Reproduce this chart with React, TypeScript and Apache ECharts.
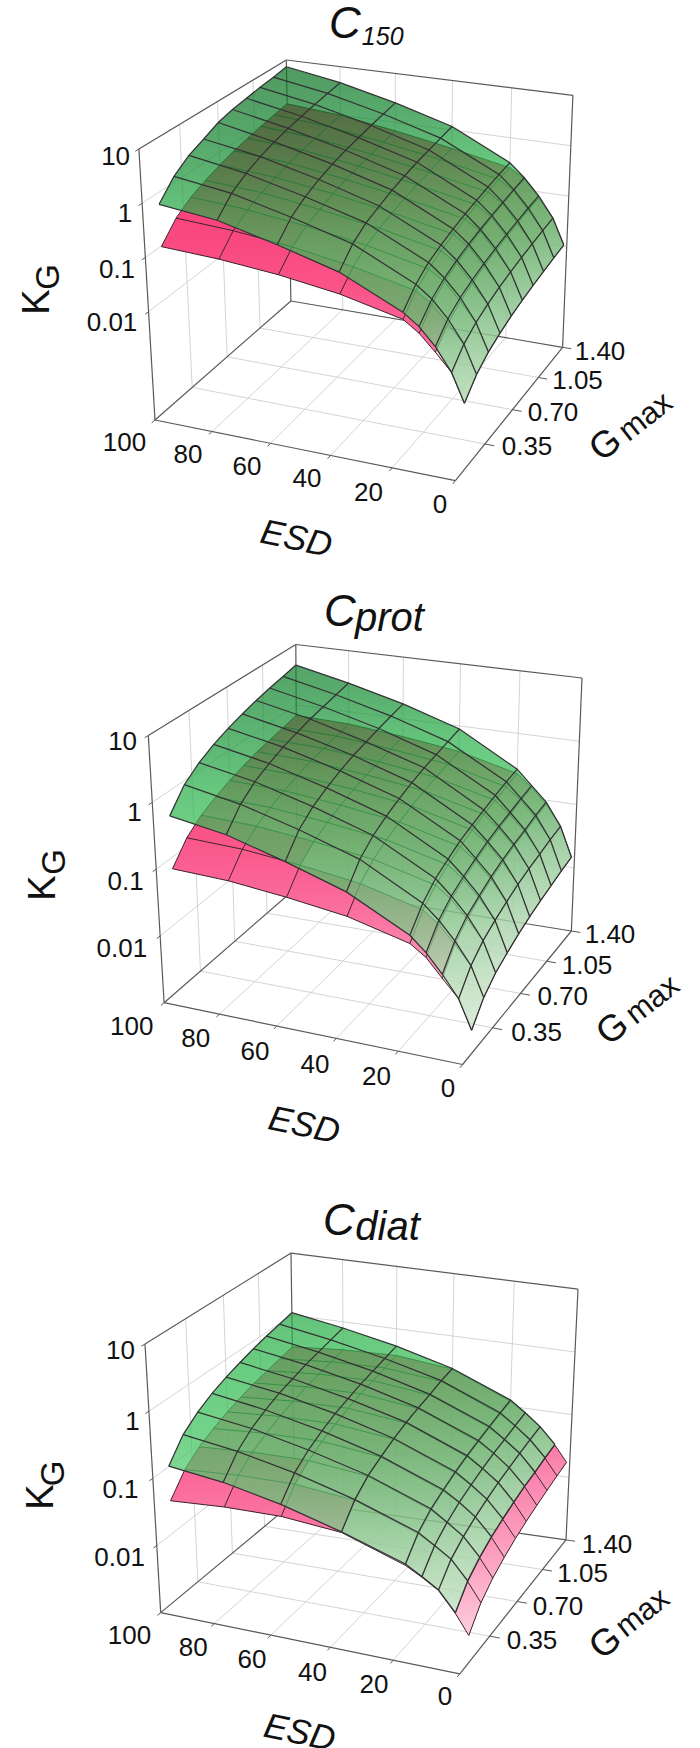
import React, { useEffect, useRef } from "react";
import * as echarts from "echarts";

// Axis ticks
const esdTicks = [100, 80, 60, 40, 20, 0];
const gmaxTicks = [0.35, 0.7, 1.05, 1.4];
const kgTicks = [10, 1, 0.1, 0.01];
const gmaxTickLabels = ["0.35", "0.70", "1.05", "1.40"];

// Surface mesh positions
const esdMesh = [100, 80, 60, 40, 20, 15, 10, 5, 1];
const gmaxMesh = [0.14, 0.28, 0.42, 0.56, 0.7, 0.84, 0.98, 1.12, 1.26, 1.4];

// log10(KG), one row per ESD in esdMesh, one value per G in gmaxMesh
const c150Green = [
  [-0.22, 0.11, 0.32, 0.45, 0.59, 0.67, 0.72, 0.77, 0.81, 0.86],
  [-0.34, -0.04, 0.14, 0.27, 0.37, 0.45, 0.51, 0.57, 0.62, 0.67],
  [-0.61, -0.31, -0.13, 0.0, 0.1, 0.18, 0.24, 0.3, 0.35, 0.4],
  [-0.92, -0.62, -0.44, -0.33, -0.23, -0.15, -0.08, -0.03, 0.02, 0.07],
  [-1.45, -1.17, -0.99, -0.88, -0.79, -0.71, -0.65, -0.59, -0.54, -0.5],
  [-1.66, -1.39, -1.23, -1.12, -1.03, -0.96, -0.9, -0.85, -0.8, -0.76],
  [-1.97, -1.7, -1.54, -1.44, -1.35, -1.28, -1.22, -1.17, -1.12, -1.08],
  [-2.38, -2.11, -1.95, -1.84, -1.75, -1.68, -1.62, -1.57, -1.52, -1.48],
  [-2.89, -2.62, -2.45, -2.34, -2.25, -2.18, -2.12, -2.07, -2.02, -1.98],
];
const c150Pink = [
  [-1.01, -0.68, -0.48, -0.35, -0.24, -0.15, -0.08, -0.02, 0.04, 0.09],
  [-1.06, -0.74, -0.55, -0.42, -0.32, -0.23, -0.16, -0.11, -0.05, 0.0],
  [-1.16, -0.86, -0.68, -0.57, -0.47, -0.39, -0.32, -0.27, -0.22, -0.17],
  [-1.32, -1.04, -0.86, -0.75, -0.66, -0.58, -0.52, -0.47, -0.41, -0.37],
  [-1.58, -1.29, -1.11, -0.99, -0.89, -0.81, -0.74, -0.69, -0.64, -0.6],
  [-1.78, -1.48, -1.3, -1.18, -1.08, -1.0, -0.94, -0.88, -0.83, -0.78],
  [-2.07, -1.79, -1.61, -1.5, -1.4, -1.33, -1.27, -1.22, -1.16, -1.12],
  [-2.38, -2.11, -1.95, -1.84, -1.75, -1.68, -1.62, -1.57, -1.52, -1.48],
  [-2.89, -2.62, -2.45, -2.34, -2.25, -2.18, -2.12, -2.07, -2.02, -1.98],
];
const cProtGreen = [
  [-0.37, -0.06, 0.12, 0.25, 0.35, 0.43, 0.5, 0.56, 0.61, 0.66],
  [-0.51, -0.22, -0.04, 0.08, 0.18, 0.25, 0.32, 0.37, 0.42, 0.47],
  [-0.76, -0.46, -0.28, -0.16, -0.06, 0.02, 0.08, 0.14, 0.19, 0.24],
  [-1.05, -0.75, -0.57, -0.45, -0.35, -0.27, -0.2, -0.15, -0.1, -0.05],
  [-1.52, -1.24, -1.06, -0.95, -0.85, -0.78, -0.72, -0.66, -0.61, -0.57],
  [-1.73, -1.45, -1.28, -1.17, -1.08, -1.0, -0.94, -0.89, -0.84, -0.8],
  [-2.0, -1.71, -1.53, -1.42, -1.32, -1.24, -1.18, -1.13, -1.07, -1.03],
  [-2.31, -2.03, -1.86, -1.75, -1.66, -1.58, -1.52, -1.47, -1.42, -1.38],
  [-2.73, -2.46, -2.3, -2.2, -2.11, -2.04, -1.98, -1.93, -1.88, -1.84],
];
const cProtPink = [
  [-1.17, -0.87, -0.69, -0.57, -0.47, -0.39, -0.32, -0.27, -0.22, -0.17],
  [-1.2, -0.9, -0.72, -0.6, -0.5, -0.42, -0.35, -0.3, -0.25, -0.2],
  [-1.29, -0.99, -0.81, -0.69, -0.59, -0.51, -0.44, -0.39, -0.34, -0.29],
  [-1.41, -1.11, -0.93, -0.81, -0.71, -0.63, -0.56, -0.51, -0.46, -0.41],
  [-1.64, -1.34, -1.16, -1.04, -0.94, -0.86, -0.79, -0.74, -0.69, -0.64],
  [-1.8, -1.51, -1.33, -1.22, -1.12, -1.04, -0.98, -0.93, -0.87, -0.83],
  [-2.06, -1.76, -1.58, -1.46, -1.36, -1.28, -1.21, -1.16, -1.11, -1.06],
  [-2.31, -2.03, -1.86, -1.75, -1.66, -1.58, -1.52, -1.47, -1.42, -1.38],
  [-2.73, -2.46, -2.3, -2.2, -2.11, -2.04, -1.98, -1.93, -1.88, -1.84],
];
const cDiatGreen = [
  [-0.99, -0.68, -0.5, -0.37, -0.27, -0.19, -0.12, -0.06, -0.01, 0.04],
  [-1.08, -0.79, -0.61, -0.49, -0.39, -0.32, -0.25, -0.2, -0.15, -0.1],
  [-1.25, -0.96, -0.79, -0.67, -0.57, -0.5, -0.43, -0.38, -0.33, -0.28],
  [-1.49, -1.2, -1.02, -0.91, -0.81, -0.73, -0.67, -0.62, -0.56, -0.52],
  [-1.79, -1.52, -1.36, -1.26, -1.17, -1.1, -1.04, -0.99, -0.94, -0.9],
  [-1.93, -1.67, -1.52, -1.41, -1.33, -1.26, -1.2, -1.16, -1.11, -1.07],
  [-2.08, -1.83, -1.69, -1.59, -1.51, -1.44, -1.39, -1.34, -1.3, -1.26],
  [-2.37, -2.11, -1.96, -1.85, -1.77, -1.7, -1.64, -1.6, -1.55, -1.51],
];
const cDiatPink = [
  [-1.51, -1.21, -1.03, -0.91, -0.81, -0.73, -0.66, -0.61, -0.56, -0.51],
  [-1.45, -1.15, -0.97, -0.85, -0.75, -0.67, -0.6, -0.55, -0.5, -0.45],
  [-1.43, -1.13, -0.95, -0.83, -0.73, -0.65, -0.58, -0.53, -0.48, -0.43],
  [-1.5, -1.21, -1.03, -0.92, -0.82, -0.74, -0.68, -0.63, -0.57, -0.53],
  [-1.81, -1.54, -1.38, -1.28, -1.19, -1.12, -1.06, -1.01, -0.96, -0.92],
  [-1.94, -1.68, -1.53, -1.42, -1.34, -1.27, -1.21, -1.17, -1.12, -1.08],
  [-2.09, -1.84, -1.7, -1.6, -1.52, -1.45, -1.4, -1.35, -1.31, -1.27],
  [-2.38, -2.12, -1.97, -1.86, -1.78, -1.71, -1.65, -1.61, -1.56, -1.52],
  [-2.67, -2.4, -2.24, -2.13, -2.04, -1.97, -1.91, -1.86, -1.81, -1.77],
];

type Pt = [number, number];
const FONT = '"Liberation Sans", Arial, sans-serif';

// Layout of the three boxes: corners named by (ESD end, Gmax end)
const panels = [
  {
    zMin: -4,
    frontCells: 6,
    strip: false,
    floor: [[455.4, 480.7], [155, 420], [290.9, 301], [562.6, 347.3]] as Pt[],
    roof: [[455, 198.6], [138.9, 149], [286.3, 60], [572.9, 95.3]] as Pt[],
    green: c150Green,
    pink: c150Pink,
    title: { main: "C", mainAt: [345, 22], sub: "150", subAt: [382.7, 36.4], subSize: 25 },
    kgPos: [[115.6, 156], [125, 213], [117, 269], [112, 322]],
    esdPos: [[124.4, 442], [188, 454], [247, 465.5], [307, 478], [368.5, 491.6], [440, 503.6]],
    gPos: [[527, 446], [553, 412], [577.5, 380], [600, 351]],
    kAt: [35.6, 302], gAt: [47.8, 277],
    esdAt: [296.6, 537.5],
    gmaxG: [605, 444], gmaxM: [645, 416],
  },
  {
    zMin: -3,
    frontCells: 6,
    strip: false,
    floor: [[462.6, 1064.5], [164.1, 1002.7], [297.4, 886.7], [571.4, 931]] as Pt[],
    roof: [[462, 785.5], [148.3, 735.5], [295.8, 644.5], [582, 678]] as Pt[],
    green: cProtGreen,
    pink: cProtPink,
    title: { main: "C", mainAt: [340, 610], sub: "prot", subAt: [389.5, 617], subSize: 40 },
    kgPos: [[122.6, 741], [134.4, 812], [125.7, 881], [121.8, 948]],
    esdPos: [[131.7, 1026], [195.7, 1038], [255, 1051], [315, 1063.5], [376.4, 1075.5], [448, 1088]],
    gPos: [[536.6, 1031.8], [562.7, 995.5], [587, 964.5], [610, 933.6]],
    kAt: [41.5, 888], gAt: [53.4, 862],
    esdAt: [304.5, 1124],
    gmaxG: [612, 1028], gmaxM: [652, 999],
  },
  {
    zMin: -3,
    frontCells: 3,
    strip: true,
    floor: [[459.8, 1673.8], [160.7, 1612.6], [294.6, 1501.4], [566, 1539.9]] as Pt[],
    roof: [[460, 1402], [145, 1344], [291, 1253.1], [578, 1289.2]] as Pt[],
    green: cDiatGreen,
    pink: cDiatPink,
    title: { main: "C", mainAt: [339, 1219], sub: "diat", subAt: [387.5, 1226], subSize: 40 },
    kgPos: [[120.5, 1350], [132.6, 1421], [120.5, 1488.5], [119.6, 1556.6]],
    esdPos: [[129.5, 1635], [193.3, 1646.5], [252, 1658.7], [312.5, 1672], [374, 1684], [445, 1696]],
    gPos: [[532, 1640], [558, 1605.6], [582.6, 1573], [607, 1544]],
    kAt: [40, 1497], gAt: [52.7, 1473.5],
    esdAt: [300, 1731.5],
    gmaxG: [605, 1642], gmaxM: [642, 1612],
  },
];

const greenStops: [number, number[]][] = [
  [0, [219, 237, 220]],
  [0.2, [182, 226, 185]],
  [0.35, [131, 211, 147]],
  [0.5, [74, 199, 102]],
  [0.7, [47, 185, 79]],
  [0.9, [19, 130, 47]],
  [1, [12, 109, 33]],
];
const pinkStops: [number, number[]][] = [
  [0, [255, 228, 238]],
  [0.1, [253, 205, 222]],
  [0.2, [252, 172, 200]],
  [0.375, [250, 120, 165]],
  [0.45, [250, 100, 150]],
  [0.6, [250, 75, 130]],
  [1, [245, 40, 105]],
];
const GREEN_ALPHA = 0.72;

// Pink cells showing in the open stay solid; those under the green sheet
// fade towards low values.
function pinkAlpha(panel: (typeof panels)[number], i: number, j: number, t: number) {
  if (panel.strip && i === 7) return 1;
  if (j === 0 && i < panel.frontCells) return 1;
  if (j === 1 && i <= 1) return 1;
  return Math.max(0.3, Math.min(1, 0.3 + 1.75 * (t - 0.3)));
}

function colorAt(stops: [number, number[]][], t: number, alpha: number) {
  const v = Math.max(0, Math.min(1, t));
  for (let i = 1; i < stops.length; i++) {
    if (v <= stops[i][0]) {
      const [t0, c0] = stops[i - 1];
      const [t1, c1] = stops[i];
      const k = (v - t0) / (t1 - t0);
      const c = c0.map((a, n) => Math.round(a + (c1[n] - a) * k));
      return `rgba(${c[0]},${c[1]},${c[2]},${alpha.toFixed(3)})`;
    }
  }
  const l = stops[stops.length - 1][1];
  return `rgba(${l[0]},${l[1]},${l[2]},${alpha.toFixed(3)})`;
}

// Perspective map of the unit square onto a quad
function quadMap(q: Pt[]) {
  const [[x0, y0], [x1, y1], [x2, y2], [x3, y3]] = q;
  const dx1 = x1 - x2, dx2 = x3 - x2, sx = x0 - x1 + x2 - x3;
  const dy1 = y1 - y2, dy2 = y3 - y2, sy = y0 - y1 + y2 - y3;
  const den = dx1 * dy2 - dx2 * dy1;
  const g = (sx * dy2 - dx2 * sy) / den;
  const h = (dx1 * sy - sx * dy1) / den;
  const a = x1 - x0 + g * x1, b = x3 - x0 + h * x3;
  const d = y1 - y0 + g * y1, e = y3 - y0 + h * y3;
  return (u: number, v: number): Pt => {
    const w = g * u + h * v + 1;
    return [(a * u + b * v + x0) / w, (d * u + e * v + y0) / w];
  };
}

function makeProjector(panel: (typeof panels)[number]) {
  const bottom = quadMap(panel.floor);
  const top = quadMap(panel.roof);
  return (esd: number, gmax: number, logK: number): Pt => {
    const u = esd / 100, v = gmax / 1.4;
    const t = (logK - panel.zMin) / (1 - panel.zMin);
    const f = bottom(u, v), c = top(u, v);
    return [f[0] + (c[0] - f[0]) * t, f[1] + (c[1] - f[1]) * t];
  };
}

function frameSeries(panel: (typeof panels)[number]) {
  const p = makeProjector(panel);
  const zMin = panel.zMin;
  const grid = "#d4d4d4";
  const edge = "#595959";
  const line = (a: Pt, b: Pt, stroke: string, lineWidth: number) => ({
    type: "line",
    shape: { x1: a[0], y1: a[1], x2: b[0], y2: b[1] },
    style: { stroke, lineWidth },
  });
  return {
    type: "custom",
    coordinateSystem: "none",
    silent: true,
    data: [[0]],
    renderItem: () => {
      const kids: any[] = [];
      const innerEsd = esdTicks.filter((e) => e > 0 && e < 100);
      const innerG = gmaxTicks.filter((g) => g < 1.4);
      innerEsd.forEach((e) => {
        kids.push(line(p(e, 0, zMin), p(e, 1.4, zMin), grid, 1));
        kids.push(line(p(e, 1.4, zMin), p(e, 1.4, 1), grid, 1));
      });
      innerG.forEach((g) => {
        kids.push(line(p(0, g, zMin), p(100, g, zMin), grid, 1));
        kids.push(line(p(100, g, zMin), p(100, g, 1), grid, 1));
      });
      kgTicks.slice(1).forEach((k) => {
        const z = Math.log10(k);
        kids.push(line(p(100, 0, z), p(100, 1.4, z), grid, 1));
        kids.push(line(p(100, 1.4, z), p(0, 1.4, z), grid, 1));
      });
      // box edges
      kids.push(line(p(100, 0, zMin), p(0, 0, zMin), edge, 1.2));
      kids.push(line(p(0, 0, zMin), p(0, 1.4, zMin), edge, 1.2));
      kids.push(line(p(0, 1.4, zMin), p(100, 1.4, zMin), edge, 1.2));
      kids.push(line(p(100, 1.4, zMin), p(100, 0, zMin), edge, 1.2));
      kids.push(line(p(100, 0, zMin), p(100, 0, 1), edge, 1.2));
      kids.push(line(p(100, 1.4, zMin), p(100, 1.4, 1), edge, 1.2));
      kids.push(line(p(0, 1.4, zMin), p(0, 1.4, 1), edge, 1.2));
      kids.push(line(p(100, 0, 1), p(100, 1.4, 1), edge, 1.2));
      kids.push(line(p(100, 1.4, 1), p(0, 1.4, 1), edge, 1.2));
      // ticks
      esdTicks.forEach((e) => {
        kids.push(line(p(e, 0, zMin), p(e, -0.03, zMin), edge, 1));
      });
      gmaxTicks.forEach((g) => {
        kids.push(line(p(0, g, zMin), p(-3, g, zMin), edge, 1));
      });
      kgTicks.forEach((k) => {
        const z = Math.log10(k);
        kids.push(line(p(100, 0, z), p(100, -0.03, z), edge, 1));
      });
      return { type: "group", children: kids };
    },
  };
}

function surfaceFill(
  panel: (typeof panels)[number],
  esds: number[],
  logs: number[][],
  stops: [number, number[]][],
  alphaOf: (i: number, j: number, t: number) => number
) {
  const p = makeProjector(panel);
  const cells: number[][] = [];
  for (let i = 0; i < esds.length - 1; i++) {
    for (let j = gmaxMesh.length - 2; j >= 0; j--) cells.push([i, j]);
  }
  const span = 1 - panel.zMin;
  return {
    type: "custom",
    coordinateSystem: "none",
    silent: true,
    data: cells,
    renderItem: (_: any, api: any) => {
      const i = api.value(0), j = api.value(1);
      const corners = [
        [i, j], [i + 1, j], [i + 1, j + 1], [i, j + 1],
      ].map(([a, b]) => {
        const z = logs[a][b];
        return { pt: p(esds[a], gmaxMesh[b], z), t: (z - panel.zMin) / span };
      });
      let hi = corners[0], lo = corners[0];
      corners.forEach((c) => {
        if (c.pt[1] < hi.pt[1]) hi = c;
        if (c.pt[1] > lo.pt[1]) lo = c;
      });
      const fill = new echarts.graphic.LinearGradient(
        0, hi.pt[1], 0, lo.pt[1],
        [
          { offset: 0, color: colorAt(stops, hi.t, alphaOf(i, j, hi.t)) },
          { offset: 1, color: colorAt(stops, lo.t, alphaOf(i, j, lo.t)) },
        ],
        true
      );
      return {
        type: "polygon",
        shape: { points: corners.map((c) => c.pt) },
        style: { fill },
      };
    },
  };
}

function surfaceMesh(
  panel: (typeof panels)[number],
  esds: number[],
  logs: number[][],
  stroke: string,
  lineWidth: number
) {
  const p = makeProjector(panel);
  const items: number[][] = [];
  gmaxMesh.forEach((_, j) => items.push([0, j]));
  esds.forEach((_, i) => items.push([1, i]));
  return {
    type: "custom",
    coordinateSystem: "none",
    silent: true,
    data: items,
    renderItem: (_: any, api: any) => {
      const kind = api.value(0), n = api.value(1);
      const points =
        kind === 0
          ? esds.map((e, i) => p(e, gmaxMesh[n], logs[i][n]))
          : gmaxMesh.map((g, j) => p(esds[n], g, logs[n][j]));
      return {
        type: "polyline",
        shape: { points },
        style: { stroke, lineWidth, fill: "none" },
      };
    },
  };
}

function txt(text: string, at: number[], size: number, opts: any = {}) {
  return {
    type: "text",
    x: at[0],
    y: at[1],
    rotation: opts.rotation || 0,
    silent: true,
    style: {
      text,
      fontFamily: FONT,
      fontSize: size,
      fontStyle: opts.italic ? "italic" : "normal",
      fill: "#111111",
      align: "center",
      verticalAlign: "middle",
    },
  };
}

function buildOption() {
  const series: any[] = [];
  const graphic: any[] = [];
  panels.forEach((panel) => {
    const pinkE = esdMesh.slice(0, panel.pink.length);
    const greenE = esdMesh.slice(0, panel.green.length);
    series.push(frameSeries(panel));
    series.push(
      surfaceFill(panel, pinkE, panel.pink, pinkStops, (i, j, t) => pinkAlpha(panel, i, j, t))
    );
    series.push(surfaceMesh(panel, pinkE, panel.pink, "#3a2029", 1));
    series.push(surfaceFill(panel, greenE, panel.green, greenStops, () => GREEN_ALPHA));
    series.push(surfaceMesh(panel, greenE, panel.green, "#333333", 1.25));

    const t = panel.title;
    graphic.push(txt(t.main, t.mainAt, 44, { italic: true }));
    graphic.push(txt(t.sub, t.subAt, t.subSize, { italic: true }));
    kgTicks.forEach((k, i) => graphic.push(txt(String(k), panel.kgPos[i], 26)));
    esdTicks.forEach((e, i) => graphic.push(txt(String(e), panel.esdPos[i], 26)));
    gmaxTickLabels.forEach((g, i) => graphic.push(txt(g, panel.gPos[i], 26)));
    graphic.push(txt("K", panel.kAt, 38, { rotation: Math.PI / 2 }));
    graphic.push(txt("G", panel.gAt, 33, { rotation: Math.PI / 2 }));
    graphic.push(txt("ESD", panel.esdAt, 35, { rotation: (-12 * Math.PI) / 180, italic: true }));
    graphic.push(txt("G", panel.gmaxG, 37, { rotation: (38 * Math.PI) / 180 }));
    graphic.push(txt("max", panel.gmaxM, 31, { rotation: (38 * Math.PI) / 180 }));
  });
  return { animation: false, backgroundColor: "#ffffff", series, graphic };
}

export default function App() {
  const ref = useRef<HTMLDivElement>(null);
  useEffect(() => {
    const chart = echarts.init(ref.current!, undefined, { renderer: "svg" });
    chart.setOption(buildOption() as any);
    return () => chart.dispose();
  }, []);
  return (
    <div
      ref={ref}
      style={{ position: "absolute", left: 0, top: 0, width: 700, height: 1748 }}
    />
  );
}
